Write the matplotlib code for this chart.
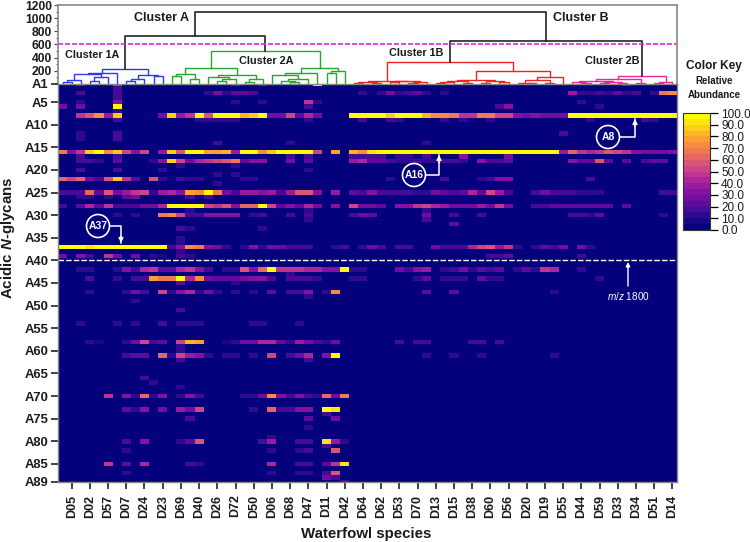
import matplotlib
matplotlib.use('Agg')
import matplotlib.pyplot as plt
import numpy as np
from matplotlib.colors import LinearSegmentedColormap
from matplotlib.lines import Line2D
from matplotlib.patches import Ellipse

plt.rcParams['font.family'] = ['Liberation Sans', 'DejaVu Sans']
plt.rcParams['mathtext.fontset'] = 'custom'
plt.rcParams['mathtext.rm'] = 'Liberation Sans'
plt.rcParams['mathtext.it'] = 'Liberation Sans:italic'
plt.rcParams['mathtext.bf'] = 'Liberation Sans:bold'
plt.rcParams['mathtext.bfit'] = 'Liberation Sans:italic:bold'

species = ['D05', 'D02', 'D57', 'D07', 'D24', 'D23', 'D69', 'D40', 'D26', 'D72', 'D50', 'D06',
           'D68', 'D47', 'D11', 'D42', 'D64', 'D62', 'D53', 'D70', 'D13', 'D15', 'D38', 'D60',
           'D56', 'D20', 'D19', 'D55', 'D44', 'D59', 'D33', 'D34', 'D51', 'D14']
glycan_ticks = [1, 5, 10, 15, 20, 25, 30, 35, 40, 45, 50, 55, 60, 65, 70, 75, 80, 85, 89]
key_ticks = [0, 10, 20, 30, 40, 50, 60, 70, 80, 90, 100]
height_ticks = [200, 400, 600, 800, 1000, 1200]
height_minor = [100, 300, 500, 700, 900, 1100]

n_cols = 68
n_rows = 89

# rows are {column: abundance}, or full lists for the busy rows
A1 = {2: 25, 6: 45, 19: 20, 22: 20, 28: 100, 62: 20}
A2 = {6: 15}
A3 = {2: 15, 6: 15, 16: 10, 17: 25, 18: 12, 19: 22, 20: 22, 21: 15, 33: 10, 35: 12, 36: 25, 37: 12,
      38: 18, 39: 22, 40: 10, 42: 10, 56: 35, 57: 12, 58: 12, 59: 15, 60: 10, 61: 20, 62: 10, 63: 15,
      65: 10, 66: 65, 67: 72}
A4 = {6: 15}
A5 = {2: 10, 6: 30, 19: 12, 22: 12, 27: 45, 28: 10, 57: 12}
A6 = {0: 25, 2: 25, 6: 100, 27: 15, 48: 15, 49: 30, 59: 12}
A7 = {6: 12}
A8 = [0, 0, 45, 55, 72, 35, 85, 0, 0, 0, 0, 25, 85, 38, 45, 98, 58, 100, 100, 100, 82, 85, 100, 28,
      28, 50, 20, 40, 28, 0, 0, 0, 100, 100, 100, 100, 85, 100, 100, 100, 80, 72, 70, 68, 48, 48, 68,
      68, 52, 52, 30, 28, 30, 25, 25, 25, 100, 100, 100, 100, 100, 100, 100, 100, 100, 100, 100, 100]
A9 = {6: 18, 15: 12, 16: 12, 17: 12, 18: 12, 19: 12, 27: 10, 33: 15, 36: 15, 37: 10, 42: 12, 44: 12,
      47: 12, 58: 10, 64: 15, 65: 10}
A12 = {2: 10, 6: 15, 55: 15}
A13 = {2: 12, 6: 18}
A14 = {17: 15, 25: 10, 40: 12}
A16 = [65, 30, 45, 85, 98, 70, 85, 50, 30, 50, 0, 35, 85, 55, 100, 100, 75, 75, 82, 38, 100, 100, 70,
       85, 100, 100, 100, 100, 50, 0, 75, 0, 80, 72, 90, 95, 100, 100, 100, 100, 100, 100, 100, 100,
       100, 100, 100, 100, 100, 100, 100, 100, 100, 100, 100, 35, 60, 45, 42, 48, 55, 52, 45, 30, 28,
       25, 25, 32]
A17 = {2: 15, 6: 15, 25: 18, 27: 15, 32: 15, 33: 15, 34: 15, 35: 15, 37: 12, 38: 12, 40: 18, 44: 30,
       49: 28}
A18 = {2: 18, 3: 18, 4: 12, 6: 22, 10: 10, 11: 30, 12: 88, 13: 50, 14: 28, 15: 42, 16: 48, 17: 52,
       18: 55, 19: 68, 20: 20, 21: 30, 22: 30, 25: 25, 27: 20, 32: 38, 33: 40, 34: 20, 35: 22, 36: 15,
       37: 10, 38: 12, 39: 15, 40: 12, 41: 12, 42: 15, 43: 15, 44: 10, 46: 30, 47: 15, 48: 15, 49: 22,
       56: 30, 57: 20, 58: 20, 59: 55, 60: 22, 62: 20, 64: 18, 65: 20, 66: 22}
A19 = {13: 12, 19: 10}
A20 = {2: 15, 6: 18, 11: 12, 27: 12}
A21 = {17: 12, 19: 10}
A22 = {0: 62, 1: 50, 2: 60, 3: 28, 4: 18, 5: 55, 6: 85, 7: 45, 8: 22, 10: 55, 11: 12, 13: 15, 14: 12,
       15: 12, 20: 10, 21: 10, 36: 12, 42: 15, 46: 12, 47: 18, 48: 30, 49: 30, 58: 15}
A23 = {17: 10}
A25 = [15, 18, 18, 62, 22, 55, 25, 38, 48, 50, 12, 38, 40, 30, 75, 70, 95, 65, 25, 15, 35, 38, 32, 35,
       18, 38, 58, 58, 30, 0, 38, 0, 20, 18, 30, 15, 18, 18, 15, 12, 10, 25, 20, 18, 20, 42, 20, 50,
       35, 15, 0, 0, 15, 25, 15, 18, 15, 12, 12, 10, 0, 0, 0, 0, 0, 0, 15, 18]
A26 = {2: 12, 3: 12, 5: 10, 7: 22, 8: 28, 14: 18, 16: 18}
A28 = [15, 0, 20, 40, 20, 48, 18, 18, 15, 28, 28, 40, 100, 100, 95, 95, 50, 48, 55, 30, 60, 60, 100,
       50, 20, 30, 22, 40, 28, 0, 30, 0, 50, 25, 25, 22, 0, 30, 30, 48, 50, 40, 35, 25, 25, 25, 35, 28,
       48, 25, 0, 0, 15, 15, 20, 22, 22, 22, 22, 22, 22, 0, 22, 0, 0, 0, 0, 0]
A29 = {14: 12, 27: 10, 40: 12}
A30 = {6: 12, 8: 10, 11: 65, 12: 72, 13: 50, 14: 18, 15: 15, 16: 30, 17: 30, 18: 30, 19: 30, 21: 10,
       22: 15, 25: 15, 27: 15, 32: 15, 33: 25, 34: 20, 40: 25, 43: 15, 46: 15, 56: 15, 57: 18, 58: 12,
       59: 22, 66: 12}
A31 = {27: 10, 40: 15}
A32 = {43: 20}
A33 = {13: 15, 14: 12, 22: 10}
A35 = {13: 12}
A36 = {13: 10}
A37 = [100, 100, 100, 92, 100, 100, 100, 100, 100, 100, 100, 100, 15, 30, 72, 68, 30, 25, 12, 0, 12,
       30, 12, 25, 25, 15, 15, 15, 0, 0, 12, 15, 0, 12, 28, 15, 0, 15, 15, 0, 0, 28, 18, 18, 18, 42,
       50, 55, 35, 45, 12, 0, 12, 22, 15, 25, 0, 25, 12, 0, 0, 0, 0, 0, 0, 0, 0, 0]
A38 = {13: 12}
A39 = {0: 28, 2: 30, 3: 15, 5: 48, 6: 28, 8: 25, 10: 12, 11: 8, 13: 15, 14: 10, 47: 15, 48: 15, 49: 20,
       57: 15}
A42 = {2: 10, 3: 12, 6: 10, 7: 30, 8: 15, 9: 42, 10: 45, 11: 20, 12: 20, 13: 40, 14: 45, 15: 30, 16: 15,
       18: 10, 19: 12, 20: 55, 21: 30, 22: 62, 23: 100, 24: 48, 25: 45, 26: 45, 27: 42, 28: 42, 29: 30,
       30: 30, 31: 100, 32: 12, 33: 10, 37: 25, 38: 15, 39: 32, 40: 38, 42: 12, 43: 18, 44: 25, 45: 12,
       46: 22, 47: 18, 48: 22, 50: 12, 51: 20, 52: 12, 53: 45, 54: 42, 57: 12}
A43 = {25: 12}
A44 = {3: 15, 6: 10, 8: 15, 9: 15, 10: 75, 11: 65, 12: 68, 13: 100, 14: 40, 15: 70, 16: 25, 17: 20,
       18: 22, 19: 22, 20: 25, 21: 30, 22: 30, 23: 15, 25: 15, 26: 15, 27: 15, 28: 10, 32: 12, 33: 12,
       39: 12, 40: 22, 42: 12, 43: 12, 44: 12, 46: 22, 47: 12, 48: 12, 59: 12}
A45 = {13: 20, 19: 10}
A47 = {3: 10, 7: 10, 8: 25, 9: 15, 11: 50, 12: 10, 13: 32, 14: 40, 15: 10, 16: 25, 17: 10, 19: 10,
       21: 10, 23: 20, 25: 15, 26: 15, 27: 30, 29: 10, 30: 72, 40: 20, 43: 20, 54: 12}
A48 = {27: 10}
A49 = {8: 12}
A51 = {13: 15}
A54 = {2: 10, 6: 10, 8: 10, 11: 15, 13: 10, 14: 10, 15: 12, 21: 10, 22: 10, 26: 10}
A58 = {3: 10, 4: 8, 7: 10, 8: 25, 9: 50, 10: 15, 11: 20, 13: 50, 14: 82, 15: 78, 18: 8, 19: 10, 20: 28,
       21: 28, 22: 42, 23: 42, 24: 20, 25: 12, 26: 35, 27: 25, 28: 15, 29: 12, 30: 25, 37: 15, 39: 15,
       40: 15, 45: 15, 46: 15, 48: 15}
A59 = {13: 10}
A60 = {13: 12}
A61 = {7: 18, 8: 20, 9: 20, 11: 62, 12: 12, 13: 52, 14: 38, 15: 30, 16: 12, 18: 10, 19: 10, 21: 10,
       23: 50, 25: 15, 26: 28, 27: 40, 29: 30, 30: 100, 40: 12, 43: 12, 46: 12, 54: 10}
A62 = {13: 15, 27: 15}
A66 = {9: 15}
A67 = {10: 12}
A68 = {13: 10}
A70 = {5: 45, 7: 30, 8: 12, 9: 62, 10: 12, 11: 30, 13: 12, 14: 30, 15: 15, 20: 10, 21: 10, 22: 25, 23: 70,
       24: 30, 25: 15, 26: 30, 27: 15, 28: 12, 29: 60, 30: 25, 31: 68}
A73 = {7: 22, 8: 12, 9: 32, 11: 25, 13: 35, 14: 28, 15: 50, 21: 12, 23: 62, 24: 15, 25: 15, 26: 32, 27: 32,
       29: 100, 30: 90}
A74 = {29: 18}
A75 = {14: 15, 27: 20, 30: 25}
A77 = {27: 12}
A79 = {23: 12}
A80 = {7: 15, 9: 30, 13: 10, 14: 20, 15: 55, 22: 15, 23: 38, 26: 15, 27: 15, 29: 92, 30: 35, 31: 10}
A81 = {29: 15}
A82 = {7: 12, 23: 12, 26: 12, 27: 18, 30: 58}
A85 = {5: 48, 7: 22, 9: 40, 14: 15, 15: 12, 23: 42, 26: 18, 27: 15, 29: 20, 30: 48, 31: 92}
A87 = {7: 10, 23: 12, 26: 10, 27: 10, 29: 15, 30: 55}
A88 = {29: 28, 30: 15}
A89 = {31: 15}

rows = {1: A1, 2: A2, 3: A3, 4: A4, 5: A5, 6: A6, 7: A7, 8: A8, 9: A9, 12: A12, 13: A13, 14: A14,
        16: A16, 17: A17, 18: A18, 19: A19, 20: A20, 21: A21, 22: A22, 23: A23, 25: A25, 26: A26,
        28: A28, 29: A29, 30: A30, 31: A31, 32: A32, 33: A33, 35: A35, 36: A36, 37: A37, 38: A38,
        39: A39, 42: A42, 43: A43, 44: A44, 45: A45, 47: A47, 48: A48, 49: A49, 51: A51, 54: A54,
        58: A58, 59: A59, 60: A60, 61: A61, 62: A62, 66: A66, 67: A67, 68: A68, 70: A70, 73: A73,
        74: A74, 75: A75, 77: A77, 79: A79, 80: A80, 81: A81, 82: A82, 85: A85, 87: A87, 88: A88,
        89: A89}

# dendrogram nodes: (height, left, right), a bare int is a leaf column
cluster_1a = (227, (170, (150, (60, (35, 0, 1), 2), (100, (40, 3, 4), 5)), 6),
              (130, (80, (50, 7, 8), 9), (115, 10, 11)))
cluster_2a = (505, (247, (150, (115, 12, 13), (80, 14, 15)),
                    (140, (100, 16, (70, (40, 17, 18), 19)), (70, (30, 20, 21), 22))),
              (250, (160, (130, 23, (70, (45, 24, (25, 25, 26)), 27)), 28),
               (200, (160, 29, 30), 31)))
cluster_1b = (338, (50, (35, (15, 32, 33), (20, 34, 35)),
                    (40, (25, 36, 37), (30, (15, 38, 39), 40))),
              (200, (55, (45, (30, (15, 41, 42), 43), (20, 44, 45)),
                     (40, (15, 46, 47), (25, 48, 49))),
               (100, (55, (20, 50, (10, 51, 52)), (15, 53, 54)), 55)))
cluster_2b = (120, (80, (45, (30, 56, (20, 57, 58)), (25, (15, 59, 60), (20, 61, 62))), (20, 63, 64)),
              (30, (15, 65, 66), 67))
top_a_height = 732
top_b_height = 656
root_height = 1096
cut_height = 600

matrix = np.zeros((n_rows, n_cols))
for number, row in rows.items():
    items = row.items() if isinstance(row, dict) else enumerate(row)
    for col, value in items:
        matrix[number - 1, col] = value

cmap = LinearSegmentedColormap.from_list(
    'key', ['#05007c', '#2c0a8e', '#5a0b9c', '#800fa2', '#a6209b', '#c73d8c',
            '#e05c70', '#f27f4e', '#fba32e', '#fdd017', '#ffff00'], N=20)


def px_x(x):
    return x / 750


def px_y(y):
    return 1 - y / 542


fig = plt.figure(figsize=(7.5, 5.42), dpi=100)
dend = fig.add_axes([px_x(58), px_y(84), 619 / 750, 79 / 542])
heat = fig.add_axes([px_x(58), px_y(482), 619 / 750, 398 / 542])
cax = fig.add_axes([px_x(683), px_y(230), 27 / 750, 117 / 542])

im = heat.imshow(matrix, aspect='auto', cmap=cmap, vmin=0, vmax=100, interpolation='nearest',
                 extent=(-0.5, n_cols - 0.5, n_rows + 0.5, 0.5))
heat.set_ylim(n_rows, 1)
heat.axhline(40, color='white', lw=1.0, ls=(0, (4, 1.5)))

heat.set_yticks(glycan_ticks)
heat.set_yticklabels([f'A{g}' for g in glycan_ticks], fontsize=9.4, fontweight='bold', color='#1a1a1a')
heat.set_xticks(np.arange(1, n_cols, 2))
heat.set_xticklabels(species, rotation=90, fontsize=9, fontweight='bold', color='#1a1a1a')
heat.tick_params(axis='both', length=5, width=1.2, color='#222222')
heat.tick_params(axis='x', pad=4)
heat.tick_params(axis='y', pad=2)
for side in heat.spines:
    heat.spines[side].set_color('#888888')
    heat.spines[side].set_linewidth(1.0)
heat.set_xlabel('Waterfowl species', fontsize=10.8, fontweight='bold', color='#1a1a1a')
heat.set_ylabel(r'Acidic $\mathbfit{N}$-glycans', fontsize=10.8, fontweight='bold', color='#1a1a1a')
heat.xaxis.set_label_coords(0.4976, -0.113)
heat.yaxis.set_label_coords(-0.0662, 0.613)


def draw_node(node, color):
    if isinstance(node, int):
        return node, 0
    height, left, right = node
    x1, h1 = draw_node(left, color)
    x2, h2 = draw_node(right, color)
    dend.plot([x1, x1, x2, x2], [h1, height, height, h2], color=color, lw=1.0,
              solid_joinstyle='miter', clip_on=False)
    return (x1 + x2) / 2, height


x_1a, h_1a = draw_node(cluster_1a, '#2a3cf0')
x_2a, h_2a = draw_node(cluster_2a, '#22a82e')
x_1b, h_1b = draw_node(cluster_1b, '#f02222')
x_2b, h_2b = draw_node(cluster_2b, '#f5209a')
black = '#222222'
dend.plot([x_1a, x_1a, x_2a, x_2a], [h_1a, top_a_height, top_a_height, h_2a], color=black, lw=1.2)
dend.plot([x_1b, x_1b, x_2b, x_2b], [h_1b, top_b_height, top_b_height, h_2b], color=black, lw=1.2)
x_a = (x_1a + x_2a) / 2
x_b = (x_1b + x_2b) / 2
dend.plot([x_a, x_a, x_b, x_b], [top_a_height, root_height, root_height, top_b_height], color=black, lw=1.2)
dend.axhline(cut_height, color='#e020f0', lw=1.2, ls=(0, (3, 1.2)))

dend.set_xlim(-0.5, n_cols - 0.5)
dend.set_ylim(0, 1200)
dend.set_xticks([])
dend.set_yticks(height_ticks)
dend.set_yticks(height_minor, minor=True)
dend.tick_params(axis='y', which='major', length=3, width=0.8, pad=1.5, labelsize=8.7, color='#444444')
dend.tick_params(axis='y', which='minor', length=1.5, width=0.6, color='#444444')
for label in dend.get_yticklabels():
    label.set_fontweight('bold')
    label.set_color('#1a1a1a')
dend.spines['bottom'].set_visible(False)
for side in ['left', 'top', 'right']:
    dend.spines[side].set_color('#888888')
    dend.spines[side].set_linewidth(1.2)

cb = fig.colorbar(im, cax=cax, ticks=key_ticks)
cb.ax.set_yticklabels([f'{k:.1f}' for k in key_ticks], fontsize=8.5, color='#1a1a1a')
cb.ax.tick_params(length=6, width=0.9, pad=2)
cb.outline.set_edgecolor('#333333')
cb.outline.set_linewidth(0.8)

for text, x, y, size in [('Cluster A', 162, 18, 9), ('Cluster B', 581, 18, 9),
                         ('Cluster 1A', 92.5, 55, 7.8), ('Cluster 2A', 266, 61, 7.8),
                         ('Cluster 1B', 416, 53, 7.8), ('Cluster 2B', 612, 61, 7.8),
                         ('Color Key', 714, 66, 8.5), ('Relative', 714, 81, 7),
                         ('Abundance', 714, 95, 7)]:
    fig.text(px_x(x), px_y(y), text, fontsize=size, fontweight='bold', ha='center', va='center',
             color='#1a1a1a')

# white callouts on top of the heatmap
callouts = [('A37', 98, 226, [(110, 226), (121, 226), (121, 243)]),
            ('A16', 414, 175, [(426, 175), (439, 175), (439, 155)]),
            ('A8', 608, 137, [(620, 137), (635, 137), (635, 119)])]
for name, cx, cy, path in callouts:
    fig.add_artist(Ellipse((px_x(cx), px_y(cy)), 23 / 750, 23 / 542, fc='none', ec='white', lw=1.2,
                           transform=fig.transFigure))
    fig.text(px_x(cx), px_y(cy), name, color='white', fontsize=7.5, fontweight='bold',
             ha='center', va='center')
    xs = [px_x(p[0]) for p in path]
    ys = [px_y(p[1]) for p in path]
    fig.add_artist(Line2D(xs, ys, color='white', lw=1.1, transform=fig.transFigure))
    heat.annotate('', xy=(xs[-1], ys[-1]), xycoords='figure fraction',
                  xytext=(xs[-1], ys[-1] + (ys[-2] - ys[-1]) * 0.4), textcoords='figure fraction',
                  arrowprops=dict(arrowstyle='-|>', color='white', lw=1.0, mutation_scale=7,
                                  shrinkA=0, shrinkB=0))

heat.annotate('', xy=(px_x(628), px_y(262)), xycoords='figure fraction',
              xytext=(px_x(628), px_y(286)), textcoords='figure fraction',
              arrowprops=dict(arrowstyle='-|>', color='white', lw=1.0, mutation_scale=6,
                              shrinkA=0, shrinkB=0))
fig.text(px_x(628), px_y(296), r'$\mathit{m/z}$ 1800', color='white', fontsize=7.2, ha='center', va='center')

fig.savefig('out.png', dpi=100)
